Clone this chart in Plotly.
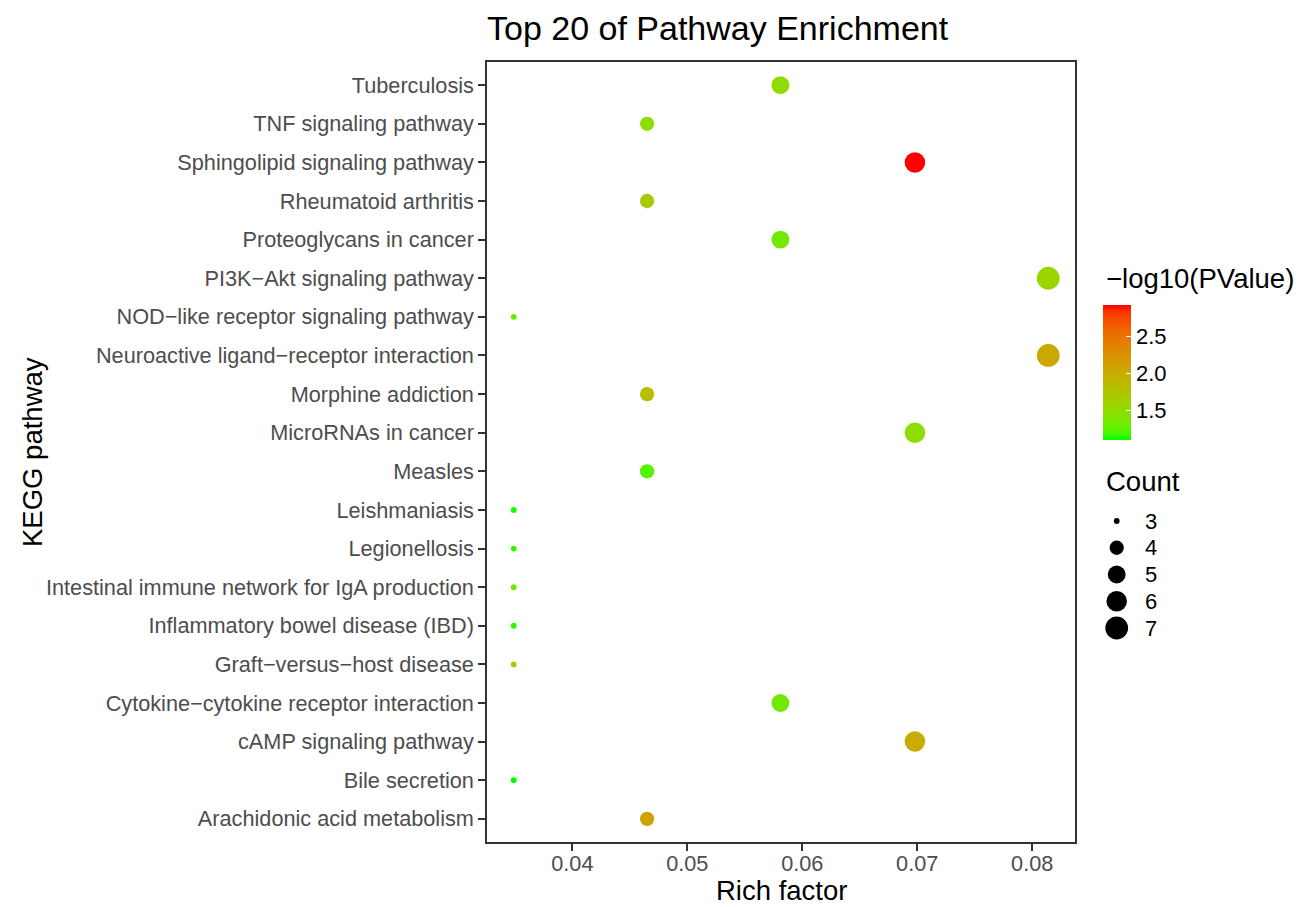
import numpy as np
import plotly.graph_objects as go

# ---------------- data (top-to-bottom order as drawn) ----------------
pathways = [
    "Tuberculosis", "TNF signaling pathway", "Sphingolipid signaling pathway",
    "Rheumatoid arthritis", "Proteoglycans in cancer", "PI3K\u2212Akt signaling pathway",
    "NOD\u2212like receptor signaling pathway", "Neuroactive ligand\u2212receptor interaction",
    "Morphine addiction", "MicroRNAs in cancer", "Measles", "Leishmaniasis",
    "Legionellosis", "Intestinal immune network for IgA production",
    "Inflammatory bowel disease (IBD)", "Graft\u2212versus\u2212host disease",
    "Cytokine\u2212cytokine receptor interaction", "cAMP signaling pathway",
    "Bile secretion", "Arachidonic acid metabolism",
]
rich_factor = [0.0581, 0.0465, 0.0698, 0.0465, 0.0581, 0.0814, 0.0349, 0.0814,
               0.0465, 0.0698, 0.0465, 0.0349, 0.0349, 0.0349, 0.0349, 0.0349,
               0.0581, 0.0698, 0.0349, 0.0465]
counts = [5, 4, 6, 4, 5, 7, 3, 7, 4, 6, 4, 3, 3, 3, 3, 3, 5, 6, 3, 4]
neg_log10_p = [1.50, 1.46, 2.919, 1.70, 1.33, 1.57, 1.24, 2.03, 1.79, 1.48,
               1.22, 1.13, 1.15, 1.28, 1.15, 1.64, 1.33, 1.99, 1.095, 2.10]

x_ticks = [0.04, 0.05, 0.06, 0.07, 0.08]
color_ticks = [1.5, 2.0, 2.5]
legend_counts = [3, 4, 5, 6, 7]

# ---------------- helpers ----------------
def srgb_to_lab(rgb):
    c = np.array(rgb, float) / 255.0
    c = np.where(c > 0.04045, ((c + 0.055) / 1.055) ** 2.4, c / 12.92)
    M = np.array([[0.4124, 0.3576, 0.1805], [0.2126, 0.7152, 0.0722], [0.0193, 0.1192, 0.9505]])
    xyz = M @ c / np.array([0.95047, 1.0, 1.08883])
    f = np.where(xyz > 0.008856, np.cbrt(xyz), 7.787 * xyz + 16 / 116)
    return np.array([116 * f[1] - 16, 500 * (f[0] - f[1]), 200 * (f[1] - f[2])])

def lab_to_srgb(lab):
    L, a, b = lab
    fy = (L + 16) / 116
    fx = fy + a / 500
    fz = fy - b / 200
    f = np.array([fx, fy, fz])
    xyz = np.where(f ** 3 > 0.008856, f ** 3, (f - 16 / 116) / 7.787) * np.array([0.95047, 1.0, 1.08883])
    Mi = np.array([[3.2406, -1.5372, -0.4986], [-0.9689, 1.8758, 0.0415], [0.0557, -0.2040, 1.0570]])
    c = np.clip(Mi @ xyz, 0, 1)
    c = np.where(c > 0.0031308, 1.055 * c ** (1 / 2.4) - 0.055, 12.92 * c)
    r, g, bb = np.round(np.clip(c, 0, 1) * 255).astype(int)
    return f"rgb({r},{g},{bb})"

lab_lo = srgb_to_lab((0, 255, 0))
lab_hi = srgb_to_lab((255, 0, 0))
colorscale = [[t, lab_to_srgb(lab_lo + (lab_hi - lab_lo) * t)] for t in np.linspace(0, 1, 21)]

cmin_c, cmax_c = min(counts), max(counts)
def size_px(c):
    s = 1 + 5 * np.sqrt((c - cmin_c) / (cmax_c - cmin_c))
    return 3.4 * s + 2.4

# ---------------- geometry ----------------
W, H = 1298, 907
L_M, R_M, T_M, B_M = 487, 0, 62, 65
paper_w = W - L_M - R_M
paper_h = H - T_M - B_M
panel_right = 1075
FONT = "Liberation Sans, Arial, sans-serif"

def px_x(p):
    return (p - L_M) / paper_w

def px_y(p):
    return (H - B_M - p) / paper_h

fig = go.Figure()

fig.add_trace(go.Scatter(
    x=rich_factor, y=pathways, mode="markers",
    marker=dict(
        size=[size_px(c) for c in counts], opacity=1,
        color=neg_log10_p, colorscale=colorscale,
        cmin=min(neg_log10_p), cmax=max(neg_log10_p),
        line=dict(width=0),
        colorbar=dict(
            xref="container", x=1102.7 / W, xanchor="left", xpad=0,
            yref="paper", y=px_y(305), yanchor="top", ypad=0,
            lenmode="pixels", len=135, thickness=28, outlinewidth=0,
            tickvals=color_ticks, ticktext=[f"{v:.1f}" for v in color_ticks],
            ticks="inside", tickcolor="white", ticklen=5, tickwidth=1,
            tickfont=dict(family=FONT, size=22, color="black"),
        ),
    ),
    showlegend=False, hoverinfo="x+y",
))

# Count size legend drawn on its own hidden axes
leg_top, leg_bot = 500, 650
row_first, row_last = 521, 628
step = (row_last - row_first) / (legend_counts[-1] - legend_counts[0])
y2_top = legend_counts[0] - (row_first - leg_top) / step
y2_bot = legend_counts[-1] + (leg_bot - row_last) / step
x2_left, x2_right = 1090, 1290

fig.add_trace(go.Scatter(
    x=[1116.7 - x2_left] * len(legend_counts), y=legend_counts, mode="markers",
    marker=dict(size=[size_px(c) for c in legend_counts], color="black", opacity=1,
                line=dict(width=0)),
    xaxis="x2", yaxis="y2", showlegend=False, hoverinfo="skip",
))

annotations = []
for c in legend_counts:
    annotations.append(dict(
        xref="x2", yref="y2", x=1143 - x2_left, y=c, text=str(c), showarrow=False,
        xanchor="left", yanchor="middle", font=dict(family=FONT, size=22, color="black"),
    ))

annotations += [
    dict(xref="paper", yref="paper", x=px_x(1104), y=px_y(278), text="\u2212log10(PValue)",
         showarrow=False, xanchor="left", yanchor="middle",
         font=dict(family=FONT, size=27.5, color="black")),
    dict(xref="paper", yref="paper", x=px_x(1104), y=px_y(481), text="Count",
         showarrow=False, xanchor="left", yanchor="middle",
         font=dict(family=FONT, size=27.5, color="black")),
    dict(xref="paper", yref="paper", x=px_x((487 + panel_right) / 2), y=px_y(907), text="Rich factor",
         showarrow=False, xanchor="center", yanchor="bottom", borderpad=0,
         font=dict(family=FONT, size=27.5, color="black")),
    dict(xref="paper", yref="paper", x=px_x(32), y=px_y(452), text="KEGG pathway",
         showarrow=False, xanchor="center", yanchor="middle", textangle=-90,
         font=dict(family=FONT, size=27.5, color="black")),
]

rmin, rmax = min(rich_factor), max(rich_factor)
pad = 0.05 * (rmax - rmin)
n = len(pathways)

fig.update_layout(
    width=W, height=H,
    margin=dict(l=L_M, r=R_M, t=T_M, b=B_M, autoexpand=False),
    paper_bgcolor="white", plot_bgcolor="white",
    font=dict(family=FONT),
    title=dict(text="Top 20 of Pathway Enrichment", xref="paper", x=0, xanchor="left",
               yref="container", y=1 - 28 / H, yanchor="middle",
               font=dict(family=FONT, size=34, color="black")),
    xaxis=dict(domain=[0, (panel_right - L_M) / paper_w], range=[rmin - pad, rmax + pad],
               tickvals=x_ticks, ticktext=[f"{v:.2f}" for v in x_ticks],
               showgrid=False, zeroline=False, showline=True, mirror=True,
               linecolor="#333333", linewidth=1.5, ticks="outside", ticklen=7,
               tickwidth=1.5, tickcolor="#333333", ticklabelstandoff=-6,
               tickfont=dict(family=FONT, size=21.7, color="#4D4D4D")),
    yaxis=dict(type="category", categoryorder="array", categoryarray=pathways,
               range=[n - 0.4, -0.6], showgrid=False, zeroline=False, showline=True,
               mirror=True, linecolor="#333333", linewidth=1.5, ticks="outside",
               ticklen=7, tickwidth=1.5, tickcolor="#333333",
               tickfont=dict(family=FONT, size=21.7, color="#4D4D4D")),
    xaxis2=dict(domain=[px_x(x2_left), px_x(x2_right)], range=[0, x2_right - x2_left],
                visible=False, anchor="y2", fixedrange=True),
    yaxis2=dict(domain=[px_y(leg_bot), px_y(leg_top)], range=[y2_bot, y2_top],
                visible=False, anchor="x2", fixedrange=True),
    annotations=annotations,
)

fig.write_html("out.html", config={"displayModeBar": False},
               post_script="document.body.style.margin='0';")
